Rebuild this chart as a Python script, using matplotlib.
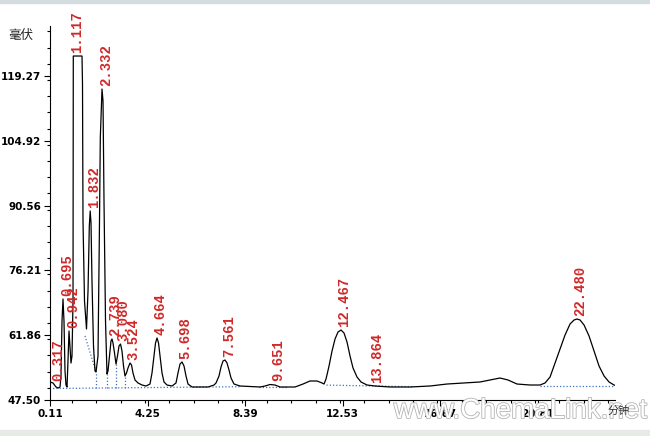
import matplotlib
matplotlib.use("Agg")
import matplotlib.pyplot as plt
import matplotlib.patheffects as pe
from matplotlib.patches import Rectangle
from matplotlib.ticker import MultipleLocator

# detector trace (minutes, millivolts)
trace_time = [0.110, 0.237, 0.365, 0.450, 0.535, 0.577, 0.620, 0.662, 0.704, 0.747,
              0.789, 0.832, 0.874, 0.917, 0.959, 1.002, 1.044, 1.087, 1.099, 1.469,
              1.490, 1.511, 1.575, 1.660, 1.724, 1.779, 1.817, 1.851, 1.893, 1.957,
              2.021, 2.063, 2.148, 2.212, 2.246, 2.297, 2.318, 2.361, 2.403, 2.467,
              2.530, 2.573, 2.637, 2.700, 2.743, 2.785, 2.849, 2.913, 2.976, 3.040,
              3.104, 3.167, 3.231, 3.295, 3.358, 3.422, 3.507, 3.571, 3.634, 3.719,
              3.847, 4.017, 4.186, 4.356, 4.441, 4.526, 4.590, 4.654, 4.718, 4.781,
              4.866, 4.951, 5.078, 5.290, 5.460, 5.545, 5.630, 5.715, 5.800, 5.885,
              5.970, 6.140, 6.479, 6.819, 7.074, 7.159, 7.286, 7.371, 7.456, 7.541,
              7.626, 7.711, 7.796, 7.923, 8.178, 9.027, 9.240, 9.452, 9.664, 9.877,
              10.514, 10.853, 11.150, 11.447, 11.660, 11.745, 11.830, 11.958, 12.085, 12.212,
              12.339, 12.467, 12.594, 12.721, 12.849, 12.976, 13.146, 13.316, 13.571, 13.910,
              14.547, 15.397, 16.246, 16.968, 18.369, 18.794, 19.218, 19.558, 19.940, 20.492,
              20.917, 21.129, 21.342, 21.554, 21.766, 21.979, 22.191, 22.361, 22.488, 22.616,
              22.786, 22.998, 23.210, 23.422, 23.635, 23.847, 24.059, 24.186]
trace_mv = [51.49, 51.27, 50.38, 50.16, 50.38, 52.82, 65.00, 69.87, 65.00, 53.92,
            50.82, 50.38, 56.14, 62.78, 59.46, 55.69, 57.25, 69.43, 123.69, 123.69,
            117.49, 87.15, 69.43, 63.23, 71.64, 86.04, 89.36, 86.70, 73.86, 59.46,
            53.92, 53.70, 57.25, 87.15, 105.53, 113.72, 116.38, 113.72, 91.58, 65.00,
            53.26, 53.92, 57.25, 60.57, 61.01, 60.12, 57.91, 55.47, 57.25, 59.46,
            59.90, 58.35, 55.03, 52.82, 53.48, 54.59, 55.69, 55.25, 53.48, 51.93,
            51.27, 50.82, 50.60, 51.04, 53.48, 57.25, 60.12, 61.23, 60.12, 57.25,
            53.48, 51.49, 50.82, 50.60, 51.27, 53.48, 55.47, 55.92, 55.03, 52.82,
            51.04, 50.38, 50.38, 50.38, 50.82, 51.27, 52.82, 54.81, 56.14, 56.36,
            55.69, 54.14, 52.37, 51.04, 50.60, 50.38, 50.60, 50.93, 50.82, 50.38,
            50.38, 51.04, 51.71, 51.71, 51.27, 51.04, 52.15, 55.03, 58.35, 61.01,
            62.56, 63.00, 62.34, 60.35, 57.25, 54.59, 52.59, 51.49, 50.82, 50.60,
            50.38, 50.38, 50.60, 51.04, 51.49, 51.93, 52.37, 51.93, 51.04, 50.82,
            50.82, 51.27, 52.59, 55.69, 58.80, 61.90, 64.33, 65.22, 65.44, 65.22,
            64.11, 61.68, 58.35, 55.03, 52.82, 51.49, 50.82, 50.60]

# integration baselines (dotted blue)
base_segments = [
    ([0.24, 8.20], [50.05, 50.45]),
    ([9.00, 10.20], [50.45, 50.45]),
    ([11.85, 15.50], [50.80, 50.45]),
    ([20.92, 24.19], [50.60, 50.60]),
    ([1.596, 2.063], [61.70, 53.70]),
]
drop_time = [2.063, 2.530, 2.913, 3.295]
drop_top = [53.70, 53.26, 55.47, 52.82]
drop_bottom = [50.15, 50.15, 50.18, 50.20]

# peak labels
peak_names = ['0.317', '0.695', '0.942', '1.117', '1.832', '2.332', '2.739', '3.080',
              '3.524', '4.664', '5.698', '7.561', '9.651', '12.467', '13.864', '22.480']
peak_mv = [51.0, 69.9, 62.8, 123.7, 89.4, 116.4, 61.0, 59.9,
           55.7, 61.2, 55.9, 56.4, 51.2, 63.0, 50.6, 65.4]

y_ticks = [47.50, 61.86, 76.21, 90.56, 104.92, 119.27]
x_ticks = [0.11, 4.25, 8.39, 12.53, 16.67, 20.81]

fig = plt.figure(figsize=(6.5, 4.36), dpi=100)
ax = fig.add_axes([50 / 650, 1 - 400 / 436, 565 / 650, 374 / 436])

# frame bits of the screenshot
fig.patches.append(Rectangle((0, 1 - 3 / 436), 1, 3 / 436, transform=fig.transFigure,
                             color='#d5dcdf', zorder=0))
fig.patches.append(Rectangle((0, 0), 1, 6 / 436, transform=fig.transFigure,
                             color='#e6ebe6', zorder=0))

ax.plot(trace_time, trace_mv, color='black', lw=0.9, zorder=3)
for bt, bv in base_segments:
    ax.plot(bt, bv, color='#3f74c4', lw=0.9, ls=(0, (1, 1.6)), zorder=2)
for t, top, bot in zip(drop_time, drop_top, drop_bottom):
    ax.plot([t, t], [bot, top], color='#3f74c4', lw=0.9, ls=(0, (1, 1.6)), zorder=2)

for name, v in zip(peak_names, peak_mv):
    ax.annotate(name, (float(name), v), xytext=(2.5, 2), textcoords='offset points',
                rotation=90, ha='center', va='bottom', color='#d02828',
                family='Liberation Mono', fontweight='bold', fontsize=10,
                annotation_clip=False, zorder=4)

ax.set_xlim(0.11, 24.10)
ax.set_ylim(47.5, 130.34)
ax.spines['top'].set_visible(False)
ax.spines['right'].set_visible(False)
ax.set_xticks(x_ticks)
ax.set_xticklabels([f'{v:.2f}' for v in x_ticks])
ax.set_yticks(y_ticks)
ax.set_yticklabels([f'{v:.2f}' for v in y_ticks])
ax.xaxis.set_minor_locator(MultipleLocator(1.035))
ax.yaxis.set_minor_locator(MultipleLocator(3.5875))
ax.tick_params(which='major', length=4.5, width=0.8, labelsize=7.5, pad=2)
ax.tick_params(which='minor', length=2.2, width=0.8)
for lab in ax.get_xticklabels() + ax.get_yticklabels():
    lab.set_fontweight('bold')

fig.text(21 / 650, 1 - 36 / 436, '毫伏', family=['Noto Sans CJK SC', 'DejaVu Sans'],
         fontsize=9, ha='center', va='center', color='#222222')
fig.text(520 / 650, 1 - 411 / 436, 'www.ChemaLink.net', family='Liberation Sans',
         fontsize=20, ha='center', va='center', color='white',
         path_effects=[pe.withStroke(linewidth=1.2, foreground='#b4b4b4')])
fig.text(619 / 650, 1 - 411 / 436, '分钟', family=['Noto Sans CJK SC', 'DejaVu Sans'],
         fontsize=8, ha='center', va='center', color='#333333')

fig.savefig('out.png', dpi=100)
